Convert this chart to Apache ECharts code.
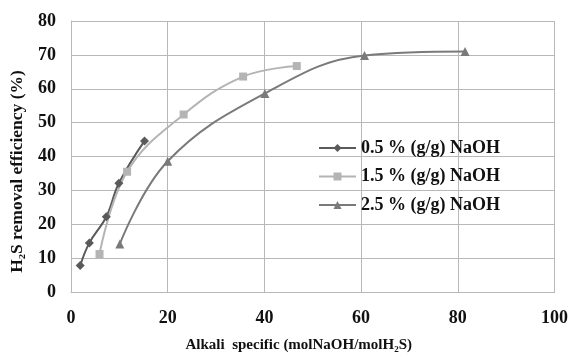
<!DOCTYPE html>
<html><head><meta charset="utf-8">
<script src="https://cdn.jsdelivr.net/npm/echarts@6/dist/echarts.min.js"></script>
<style>html,body{margin:0;padding:0;background:#fff}#c{width:571px;height:358px}</style>
</head><body><div id="c"></div>
<script>
const seriesNames = ['0.5 % (g/g) NaOH', '1.5 % (g/g) NaOH', '2.5 % (g/g) NaOH'];
const s05 = [[1.9, 7.8], [3.8, 14.5], [7.3, 22.2], [9.9, 32.1], [15.2, 44.6]];
const s15 = [[5.9, 11.2], [11.6, 35.5], [23.3, 52.4], [35.6, 63.6], [46.7, 66.7]];
const s25 = [[10.1, 14.2], [20.0, 38.6], [40.1, 58.6], [60.7, 69.8], [81.5, 71.0]];
const xTicks = [0, 20, 40, 60, 80, 100];
const yTicks = [0, 10, 20, 30, 40, 50, 60, 70, 80];

const font = '"Liberation Serif", "Times New Roman", serif';
const chart = echarts.init(document.getElementById('c'));
const mk = (name, data, color, symbol, size) => ({
  name, type: 'line', data, smooth: 0.4, symbol, symbolSize: size,
  lineStyle: { color, width: 2 }, itemStyle: { color }, color
});
chart.setOption({
  animation: false,
  grid: { left: 70, right: 15, top: 21, bottom: 63 },
  xAxis: {
    type: 'value', min: xTicks[0], max: xTicks[xTicks.length - 1], interval: 20,
    name: 'Alkali  specific (molNaOH/molH₂S)', nameLocation: 'middle', nameGap: 46,
    nameTextStyle: { fontFamily: font, fontWeight: 'bold', fontSize: 15, color: '#111', padding: [0, 28, 0, 0] },
    axisLine: { lineStyle: { color: '#b8b8b8' } }, axisTick: { show: false },
    axisLabel: { fontFamily: font, fontWeight: 'bold', fontSize: 18, color: '#111', margin: 17 },
    splitLine: { lineStyle: { color: '#b8b8b8' } }
  },
  yAxis: {
    type: 'value', min: yTicks[0], max: yTicks[yTicks.length - 1], interval: 10,
    name: 'H₂S removal efficiency (%)', nameLocation: 'middle', nameGap: 45,
    nameTextStyle: { fontFamily: font, fontWeight: 'bold', fontSize: 17.5, color: '#111', padding: [0, 30, 0, 0] },
    axisLine: { show: true, lineStyle: { color: '#b8b8b8' } }, axisTick: { show: false },
    axisLabel: { fontFamily: font, fontWeight: 'bold', fontSize: 18, color: '#111', margin: 15 },
    splitLine: { lineStyle: { color: '#b8b8b8' } }
  },
  legend: {
    orient: 'vertical', left: 313, top: 134, itemWidth: 37, itemHeight: 10, itemGap: 10.5,
    textStyle: { fontFamily: font, fontWeight: 'bold', fontSize: 18, color: '#111' },
    data: seriesNames
  },
  series: [
    mk(seriesNames[0], s05, '#5a5a5a', 'diamond', 9),
    mk(seriesNames[1], s15, '#b4b4b4', 'rect', 8),
    mk(seriesNames[2], s25, '#7a7a7a', 'triangle', 9)
  ]
});
</script></body></html>
